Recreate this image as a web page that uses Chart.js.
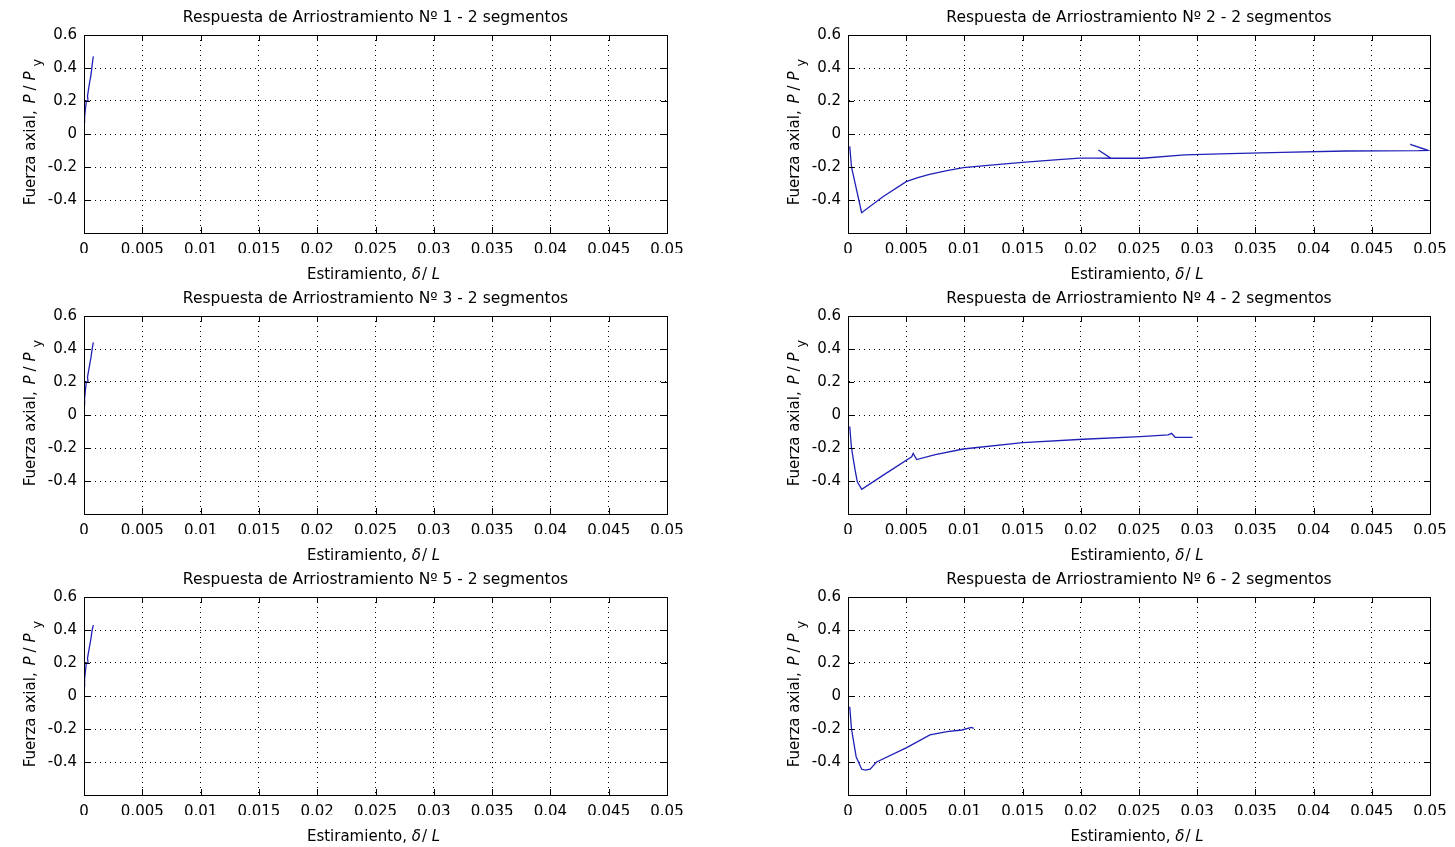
<!DOCTYPE html>
<html lang="es">
<head>
    <meta charset="UTF-8">
    <title>Respuesta de Arriostramiento</title>
    <style>
        * { margin: 0; padding: 0; box-sizing: border-box; }
        body { background: #fff; width: 1455px; height: 847px; position: relative; overflow: hidden; }
        .panel { position: absolute; height: 281px; }
        .panel canvas { display: block; }
    </style>
</head>
<body>
    <div class="panel" style="left:0; top:0; width:727px"><canvas id="c1" width="727" height="281"></canvas></div>
    <div class="panel" style="left:727px; top:0; width:728px"><canvas id="c2" width="728" height="281"></canvas></div>
    <div class="panel" style="left:0; top:281px; width:727px"><canvas id="c3" width="727" height="281"></canvas></div>
    <div class="panel" style="left:727px; top:281px; width:728px"><canvas id="c4" width="728" height="281"></canvas></div>
    <div class="panel" style="left:0; top:562px; width:727px"><canvas id="c5" width="727" height="281"></canvas></div>
    <div class="panel" style="left:727px; top:562px; width:728px"><canvas id="c6" width="728" height="281"></canvas></div>

    <script src="https://cdn.jsdelivr.net/npm/chart.js"></script>
    <script>
        // ticks
        const xTicks = [0, 0.005, 0.01, 0.015, 0.02, 0.025, 0.03, 0.035, 0.04, 0.045, 0.05];
        const xTickLabels = ['0', '0.005', '0.01', '0.015', '0.02', '0.025', '0.03', '0.035', '0.04', '0.045', '0.05'];
        const yTicks = [-0.6, -0.4, -0.2, 0, 0.2, 0.4, 0.6];
        const yTickLabels = ['', '-0.4', '-0.2', '0', '0.2', '0.4', '0.6'];

        // respuesta de cada arriostramiento (estiramiento, fuerza axial)
        const brace1X = [0, 0.00005, 0.00012, 0.0002, 0.00035, 0.0003, 0.00045, 0.0006, 0.00062, 0.0007, 0.0008];
        const brace1Y = [0.07, 0.1, 0.15, 0.2, 0.2, 0.23, 0.3, 0.36, 0.37, 0.42, 0.47];

        const brace2X = [0.00015, 0.0003, 0.00117, 0.003, 0.005, 0.006, 0.007, 0.0085, 0.0099, 0.0125, 0.015, 0.0175, 0.0199, 0.0213, 0.0226, 0.0215, 0.0226, 0.0253, 0.0289, 0.0328, 0.0373, 0.0428, 0.049, 0.0498, 0.0483, 0.0498];
        const brace2Y = [-0.075, -0.2, -0.477, -0.38, -0.289, -0.265, -0.244, -0.222, -0.204, -0.187, -0.172, -0.158, -0.146, -0.146, -0.147, -0.097, -0.147, -0.147, -0.127, -0.119, -0.111, -0.103, -0.101, -0.099, -0.063, -0.097];

        const brace3X = [0, 0.00005, 0.00012, 0.0002, 0.00035, 0.0003, 0.00045, 0.0006, 0.00062, 0.0007, 0.0008];
        const brace3Y = [0.06, 0.1, 0.15, 0.2, 0.2, 0.23, 0.29, 0.35, 0.36, 0.4, 0.44];

        const brace4X = [0.00015, 0.0003, 0.0006, 0.0008, 0.00118, 0.003, 0.00547, 0.0056, 0.0059, 0.0075, 0.0099, 0.015, 0.0202, 0.0251, 0.0275, 0.0278, 0.0281, 0.0296];
        const brace4Y = [-0.07, -0.2, -0.33, -0.405, -0.45, -0.366, -0.253, -0.233, -0.27, -0.24, -0.206, -0.168, -0.147, -0.131, -0.12, -0.111, -0.135, -0.135];

        const brace5X = [0, 0.00005, 0.00012, 0.0002, 0.00035, 0.0003, 0.00045, 0.0006, 0.00062, 0.0007, 0.0008];
        const brace5Y = [0.06, 0.1, 0.15, 0.2, 0.2, 0.23, 0.29, 0.35, 0.36, 0.4, 0.43];

        const brace6X = [0.00015, 0.0003, 0.0007, 0.00118, 0.0015, 0.0019, 0.00246, 0.00504, 0.00704, 0.0085, 0.0098, 0.0106, 0.0108];
        const brace6Y = [-0.065, -0.2, -0.368, -0.444, -0.449, -0.444, -0.40, -0.313, -0.236, -0.216, -0.206, -0.19, -0.196];

        const FONT = 'DejaVu Sans';
        const FS = 15;

        // draws a row of text pieces (plain / italic / subscript) centred on (0,0)
        function drawRuns(ctx, runs, size) {
            const fontOf = r => (r.italic ? 'italic ' : '') + (r.sub ? size - 2 : size) + 'px "' + FONT + '"';
            const widths = runs.map(r => {
                ctx.font = fontOf(r);
                return ctx.measureText(r.t).width + (r.gap || 0);
            });
            let x = -widths.reduce((a, b) => a + b, 0) / 2;
            runs.forEach((r, i) => {
                ctx.font = fontOf(r);
                ctx.fillText(r.t, x + (r.gap || 0), r.sub ? 6 : 0);
                x += widths[i];
            });
        }

        const matlabAxes = {
            id: 'matlabAxes',
            afterDraw(chart, args, opts) {
                const ctx = chart.ctx;
                const a = chart.chartArea;
                const xs = chart.scales.x, ys = chart.scales.y;
                ctx.save();
                ctx.strokeStyle = '#000';
                ctx.lineWidth = 1;
                ctx.setLineDash([]);
                // box
                ctx.strokeRect(Math.round(a.left) + 0.5, Math.round(a.top) + 0.5, Math.round(a.right - a.left), Math.round(a.bottom - a.top));
                // inner ticks on all four sides
                ctx.beginPath();
                xs.ticks.forEach(t => {
                    const px = Math.round(xs.getPixelForValue(t.value)) + 0.5;
                    ctx.moveTo(px, a.bottom); ctx.lineTo(px, a.bottom - 6);
                    ctx.moveTo(px, a.top); ctx.lineTo(px, a.top + 6);
                });
                ys.ticks.forEach(t => {
                    const py = Math.round(ys.getPixelForValue(t.value)) + 0.5;
                    ctx.moveTo(a.left, py); ctx.lineTo(a.left + 6, py);
                    ctx.moveTo(a.right, py); ctx.lineTo(a.right - 6, py);
                });
                ctx.stroke();

                ctx.fillStyle = '#000';
                ctx.textBaseline = 'alphabetic';
                ctx.textAlign = 'left';
                const cx = (a.left + a.right) / 2;
                // title
                ctx.save();
                ctx.translate(cx, a.top - 13);
                drawRuns(ctx, [{t: opts.title}], 15.5);
                ctx.restore();
                // x label
                ctx.save();
                ctx.translate(cx - 2, a.bottom + 46);
                drawRuns(ctx, [{t: 'Estiramiento, '}, {t: 'δ', italic: true}, {t: '/ ', gap: 1}, {t: 'L', italic: true}], FS);
                ctx.restore();
                // y label
                ctx.save();
                ctx.translate(a.left - 49, (a.top + a.bottom) / 2 - 2);
                ctx.rotate(-Math.PI / 2);
                drawRuns(ctx, [{t: 'Fuerza axial, '}, {t: 'P', italic: true, gap: 2}, {t: '/', gap: 4},
                               {t: 'P', italic: true, gap: 5}, {t: 'y', sub: true, gap: 5}], FS);
                ctx.restore();
                ctx.restore();
            }
        };

        function makeChart(id, title, xs, ys, leftCol) {
            const points = xs.map((x, i) => ({x: x, y: ys[i]}));
            const tickFont = {family: FONT, size: FS};
            return new Chart(document.getElementById(id), {
                type: 'scatter',
                data: {
                    datasets: [{
                        data: points,
                        showLine: true,
                        borderColor: '#2020b8',
                        borderWidth: 1.3,
                        pointRadius: 0,
                        tension: 0
                    }]
                },
                options: {
                    responsive: false,
                    animation: false,
                    events: [],
                    layout: {
                        padding: leftCol ? {left: 34, right: 60, top: 35, bottom: 28}
                                         : {left: 71, right: 25, top: 35, bottom: 28}
                    },
                    plugins: {
                        legend: {display: false},
                        tooltip: {enabled: false},
                        matlabAxes: {title: title}
                    },
                    scales: {
                        x: {
                            type: 'linear',
                            min: 0,
                            max: 0.05,
                            afterBuildTicks: s => { s.ticks = xTicks.map(v => ({value: v})); },
                            afterFit: s => { s.height = 20; },
                            ticks: {
                                callback: (v, i) => xTickLabels[i],
                                color: '#000',
                                font: tickFont,
                                padding: 8,
                                maxRotation: 0,
                                autoSkip: false
                            },
                            grid: {color: '#000', lineWidth: 1, drawTicks: false},
                            border: {color: '#000', dash: [1, 4]}
                        },
                        y: {
                            min: -0.6,
                            max: 0.6,
                            afterBuildTicks: s => { s.ticks = yTicks.map(v => ({value: v})); },
                            afterFit: s => { s.width = 50; },
                            ticks: {
                                callback: (v, i) => yTickLabels[i],
                                color: '#000',
                                font: tickFont,
                                padding: 7,
                                autoSkip: false
                            },
                            grid: {color: '#000', lineWidth: 1, drawTicks: false},
                            border: {color: '#000', dash: [1, 4]}
                        }
                    }
                },
                plugins: [matlabAxes]
            });
        }

        makeChart('c1', 'Respuesta de Arriostramiento Nº 1 - 2 segmentos', brace1X, brace1Y, true);
        makeChart('c2', 'Respuesta de Arriostramiento Nº 2 - 2 segmentos', brace2X, brace2Y, false);
        makeChart('c3', 'Respuesta de Arriostramiento Nº 3 - 2 segmentos', brace3X, brace3Y, true);
        makeChart('c4', 'Respuesta de Arriostramiento Nº 4 - 2 segmentos', brace4X, brace4Y, false);
        makeChart('c5', 'Respuesta de Arriostramiento Nº 5 - 2 segmentos', brace5X, brace5Y, true);
        makeChart('c6', 'Respuesta de Arriostramiento Nº 6 - 2 segmentos', brace6X, brace6Y, false);
    </script>
</body>
</html>
